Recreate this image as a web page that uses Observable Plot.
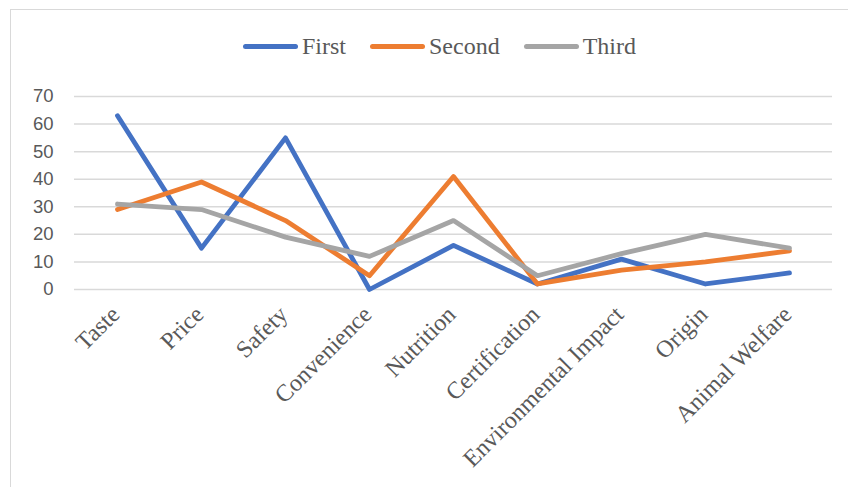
<!DOCTYPE html>
<html>
<head>
<meta charset="utf-8">
<script src="https://cdn.jsdelivr.net/npm/d3@7"></script>
<script src="https://cdn.jsdelivr.net/npm/@observablehq/plot@0.6"></script>
<style>
  html, body { margin: 0; padding: 0; background: #fff; }
  #wrap { position: relative; width: 848px; height: 487px; overflow: hidden; }
  #frame { position: absolute; left: 10px; top: 9px; width: 860px; height: 500px; border: 1.5px solid #D9D9D9; box-sizing: border-box; }
  #legend { position: absolute; left: 243px; top: 33px; display: flex; align-items: center; font-family: "Liberation Serif", serif; font-size: 24px; color: #595959; }
  .item { display: flex; align-items: center; margin-right: 24px; }
  .swatch { width: 55px; height: 5px; border-radius: 3px; margin-right: 4px; }
  #chart { position: absolute; left: 0; top: 0; }
</style>
</head>
<body>
<div id="wrap">
  <div id="frame"></div>
  <div id="chart"></div>
  <div id="legend"></div>
</div>
<script>
const categories = ["Taste", "Price", "Safety", "Convenience", "Nutrition", "Certification", "Environmental Impact", "Origin", "Animal Welfare"];
const seriesNames = ["First", "Second", "Third"];
const first  = [63, 15, 55, 0, 16, 2, 11, 2, 6];
const second = [29, 39, 25, 5, 41, 2, 7, 10, 14];
const third  = [31, 29, 19, 12, 25, 5, 13, 20, 15];
const colors = ["#4472C4", "#ED7D31", "#A5A5A5"];
const yTicks = [0, 10, 20, 30, 40, 50, 60, 70];

const values = [first, second, third];
const data = [];
seriesNames.forEach((s, i) => categories.forEach((c, j) => data.push({series: s, category: c, value: values[i][j]})));

const chart = Plot.plot({
  width: 848,
  height: 487,
  marginTop: 96,
  marginBottom: 198,
  marginLeft: 74,
  marginRight: 16,
  style: {background: "transparent", color: "#595959"},
  x: {type: "point", domain: categories, padding: 0.5},
  y: {domain: [0, 70]},
  color: {domain: seriesNames, range: colors},
  marks: [
    Plot.ruleY(yTicks, {stroke: "#D9D9D9", strokeWidth: 1.5}),
    Plot.axisY({ticks: yTicks, tickSize: 0, tickPadding: 21, fontSize: 18.5, fontFamily: "Liberation Sans, sans-serif", label: null}),
    Plot.axisX({tickRotate: -45, tickSize: 0, tickPadding: 6, fontSize: 24, fontFamily: "Liberation Serif, serif", label: null, dx: -2, dy: 15}),
    Plot.line(data, {x: "category", y: "value", z: "series", stroke: "series", strokeWidth: 4.8, strokeLinecap: "round", strokeLinejoin: "round"})
  ]
});
document.getElementById("chart").appendChild(chart);

const legend = document.getElementById("legend");
seriesNames.forEach((s, i) => {
  const item = document.createElement("div");
  item.className = "item";
  const sw = document.createElement("div");
  sw.className = "swatch";
  sw.style.background = colors[i];
  const t = document.createElement("span");
  t.textContent = s;
  item.appendChild(sw);
  item.appendChild(t);
  legend.appendChild(item);
});
</script>
</body>
</html>
